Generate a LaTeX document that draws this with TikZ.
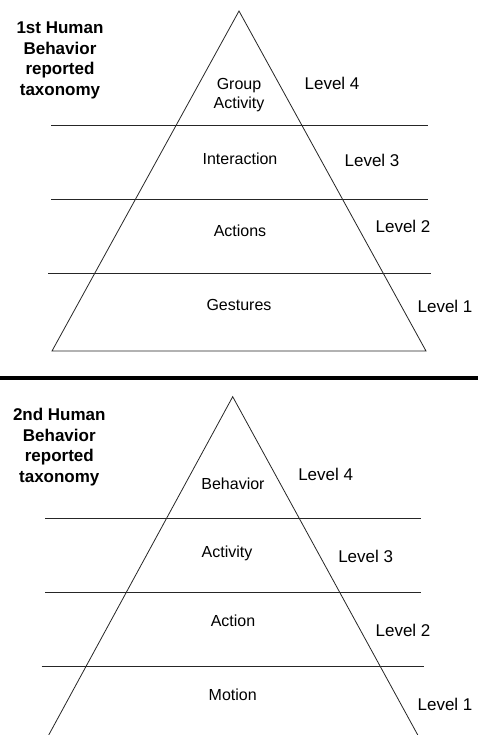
\documentclass[tikz,border=0pt]{standalone}
\usepackage{fontspec}
\setmainfont{Liberation Sans}
\begin{document}
\begin{tikzpicture}[x=1pt,y=-1pt,
  edge/.style={line width=0.8pt, black!85},
  lbl/.style={font=\fontsize{16}{19}\selectfont, inner sep=0pt, text height=11.5pt, text depth=0pt},
  lvl/.style={font=\fontsize{17}{20}\selectfont, inner sep=0pt, text height=12.2pt, text depth=0pt},
  title/.style={font=\bfseries\fontsize{17}{20.5}\selectfont, inner sep=0pt, align=center}]
\useasboundingbox (0,0) rectangle (478,735);
\clip (0,0) rectangle (478,735);
% ---------- top pyramid ----------
\coordinate (t1) at (239,11);
\coordinate (l1) at (52,351);
\coordinate (r1) at (426,351);
\draw[edge] (t1) -- (l1) -- (r1) -- cycle;
\coordinate (a1l) at (51,125); \coordinate (a1r) at (428,125);
\coordinate (b1l) at (51,199); \coordinate (b1r) at (428,199);
\coordinate (c1l) at (48,273); \coordinate (c1r) at (431,273);
\draw[edge] (a1l) -- (a1r);
\draw[edge] (b1l) -- (b1r);
\draw[edge] (c1l) -- (c1r);
\node[title] (h1) at (60,60.5) {1st Human\\Behavior\\reported\\taxonomy};
\node[font=\fontsize{16}{19}\selectfont, inner sep=0pt, align=center] (g1) at (239,95) {Group\\Activity};
\node[lbl] (i1) at (240,159) {Interaction};
\node[lbl] (ac1) at (240,231) {Actions};
\node[lbl] (ge1) at (239,305) {Gestures};
\node[lvl] (L41) at (332,83) {Level 4};
\node[lvl] (L31) at (372,160) {Level 3};
\node[lvl] (L21) at (403,226) {Level 2};
\node[lvl] (L11) at (445,306) {Level 1};
% ---------- separator ----------
\coordinate (sl) at (0,378);
\coordinate (sr) at (478,378);
\draw[line width=4pt] (sl) -- (sr);
% ---------- bottom pyramid ----------
\coordinate (t2) at (232.7,396.7);
\coordinate (l2) at (46,740);
\coordinate (r2) at (420.5,740);
\draw[edge] (t2) -- (l2) -- (r2) -- cycle;
\coordinate (a2l) at (45,518.3); \coordinate (a2r) at (421,518.3);
\coordinate (b2l) at (45,592.3); \coordinate (b2r) at (421,592.3);
\coordinate (c2l) at (41.7,666); \coordinate (c2r) at (424,666);
\draw[edge] (a2l) -- (a2r);
\draw[edge] (b2l) -- (b2r);
\draw[edge] (c2l) -- (c2r);
\node[title] (h2) at (59.3,447) {2nd Human\\Behavior\\reported\\taxonomy};
\node[lbl] (be2) at (233,484) {Behavior};
\node[lbl] (av2) at (227,552) {Activity};
\node[lbl] (ac2) at (233,621) {Action};
\node[lbl] (mo2) at (232.7,694.7) {Motion};
\node[lvl] (L42) at (325.7,474) {Level 4};
\node[lvl] (L32) at (365.7,556.7) {Level 3};
\node[lvl] (L22) at (403,630.7) {Level 2};
\node[lvl] (L12) at (445,704.7) {Level 1};
\end{tikzpicture}
\end{document}
